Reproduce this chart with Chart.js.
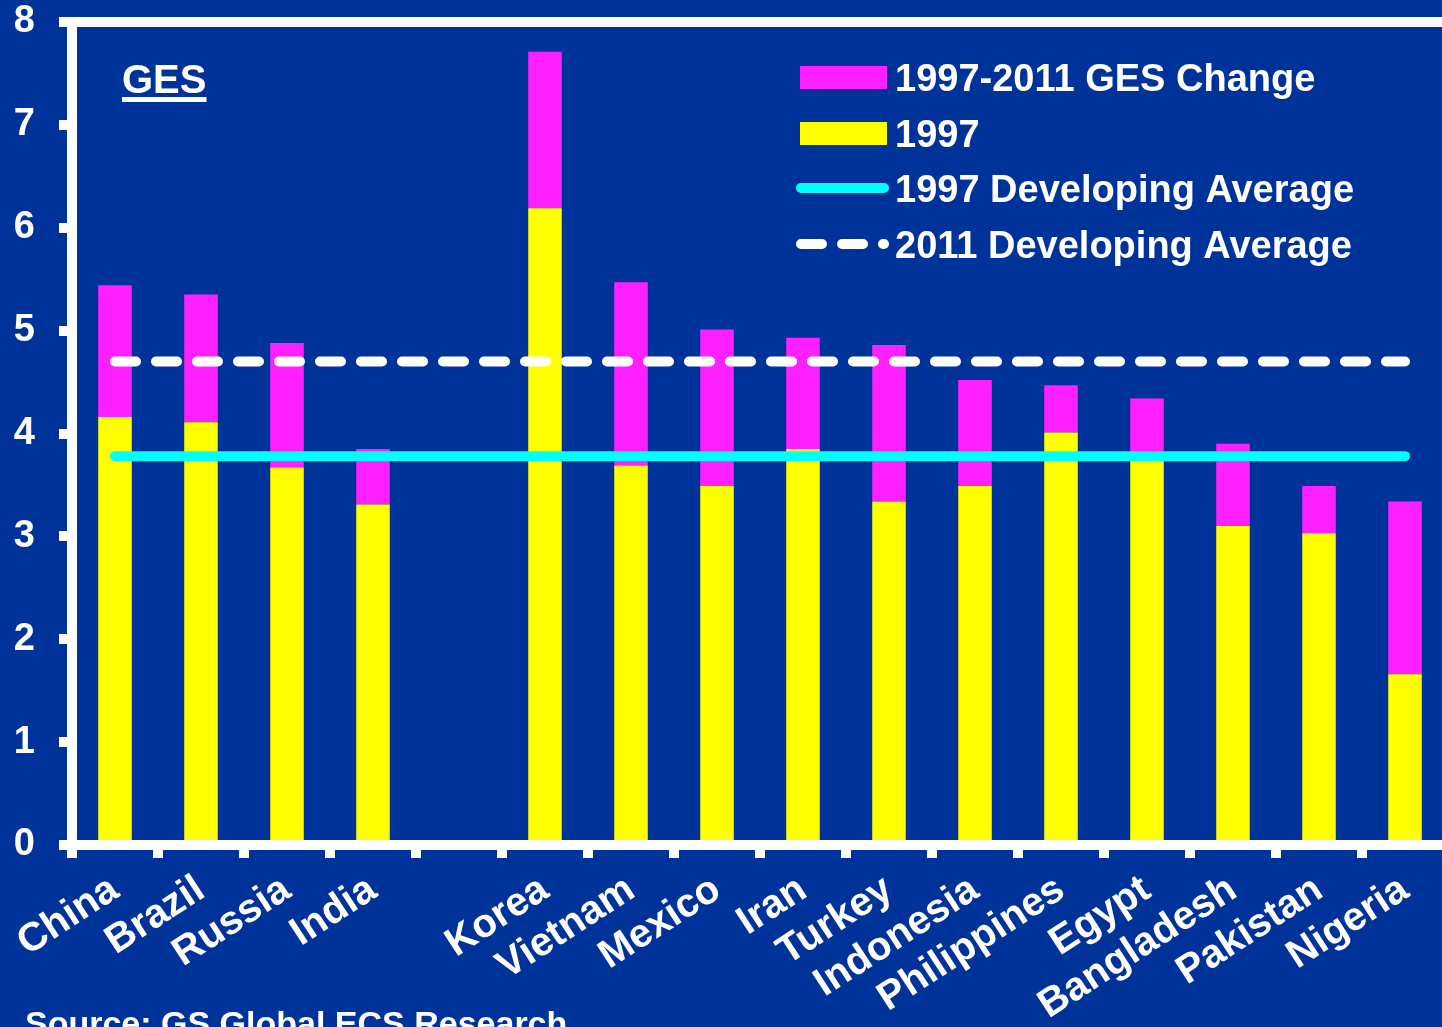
<!DOCTYPE html>
<html>
<head>
<meta charset="utf-8">
<script src="https://cdn.jsdelivr.net/npm/chart.js@4"></script>
<style>
  html, body { margin: 0; padding: 0; background: #003399; overflow: hidden; }
  #wrap { position: relative; width: 1452px; height: 1027px; }
</style>
</head>
<body>
<div id="wrap"><canvas id="chart" width="1452" height="1027"></canvas></div>
<script>
// categories (blank slot between India and Korea)
const countries = ['China', 'Brazil', 'Russia', 'India', '', 'Korea', 'Vietnam', 'Mexico', 'Iran',
  'Turkey', 'Indonesia', 'Philippines', 'Egypt', 'Bangladesh', 'Pakistan', 'Nigeria'];
// GES level in 1997
const ges1997 = [4.16, 4.11, 3.67, 3.31, null, 6.19, 3.69, 3.49, 3.85, 3.34, 3.49, 4.01, 3.78, 3.10, 3.03, 1.66];
// change 1997-2011 (stacked on top)
const gesChange = [1.28, 1.24, 1.21, 0.54, null, 1.52, 1.78, 1.52, 1.08, 1.52, 1.03, 0.46, 0.56, 0.80, 0.46, 1.68];
const avg1997 = 3.78;
const avg2011 = 4.70;
const yTicks = [0, 1, 2, 3, 4, 5, 6, 7, 8];

const FONT = '"Liberation Sans", Arial, sans-serif';
const BG = '#003399';
const MAGENTA = '#FF20FF';
const YELLOW = '#FFFF00';
const CYAN = '#00FFFF';

Chart.defaults.font.family = FONT;
Chart.defaults.color = '#fff';

// title, legend and source are drawn straight on the canvas
const overlay = {
  id: 'overlay',
  beforeDraw(chart) {
    const ctx = chart.ctx;
    ctx.save();
    ctx.fillStyle = BG;
    ctx.fillRect(0, 0, chart.width, chart.height);
    ctx.restore();
  },
  afterDraw(chart) {
    const ctx = chart.ctx;
    ctx.save();
    ctx.fillStyle = '#fff';
    ctx.textBaseline = 'alphabetic';
    ctx.textAlign = 'left';

    ctx.font = 'bold 40px ' + FONT;
    ctx.fillText('GES', 122, 93);
    ctx.fillRect(122, 97, ctx.measureText('GES').width, 5);

    const ds = chart.data.datasets;
    const rows = [ds[3], ds[2], ds[0], ds[1]];
    const rowY = [77, 133, 188, 244];
    ctx.font = 'bold 38px ' + FONT;
    rows.forEach((d, i) => {
      const y = rowY[i];
      if (d.type === 'bar') {
        ctx.fillStyle = d.backgroundColor;
        ctx.fillRect(800, y - 11, 87, 23);
      } else {
        ctx.strokeStyle = d.borderColor;
        ctx.lineWidth = 10;
        ctx.lineCap = 'round';
        ctx.setLineDash(d.borderDash || []);
        ctx.beginPath();
        ctx.moveTo(801, y);
        ctx.lineTo(884, y);
        ctx.stroke();
        ctx.setLineDash([]);
      }
      ctx.fillStyle = '#fff';
      ctx.fillText(d.label, 895, y + 14);
    });

    ctx.font = 'bold 34px ' + FONT;
    ctx.fillText('Source: GS Global ECS Research', 25, 1035);
    ctx.restore();
  }
};

new Chart(document.getElementById('chart'), {
  data: {
    labels: countries,
    datasets: [
      {
        type: 'line', label: '1997 Developing Average', stack: 'a1',
        data: countries.map(() => avg1997),
        borderColor: CYAN, borderWidth: 10, borderCapStyle: 'round',
        pointRadius: 0, order: 0
      },
      {
        type: 'line', label: '2011 Developing Average', stack: 'a2',
        data: countries.map(() => avg2011),
        borderColor: '#fff', borderWidth: 10, borderCapStyle: 'round',
        borderDash: [21, 20], pointRadius: 0, order: 0
      },
      {
        type: 'bar', label: '1997', data: ges1997,
        backgroundColor: YELLOW, borderWidth: 0, order: 1
      },
      {
        type: 'bar', label: '1997-2011 GES Change', data: gesChange,
        backgroundColor: MAGENTA, borderWidth: 0, order: 2
      }
    ]
  },
  options: {
    responsive: false,
    animation: false,
    devicePixelRatio: 1,
    layout: { padding: { left: 0, top: 22, right: 4, bottom: 0 } },
    datasets: { bar: { categoryPercentage: 1, barPercentage: 0.39 } },
    plugins: { legend: { display: false }, tooltip: { enabled: false }, title: { display: false } },
    scales: {
      x: {
        stacked: true,
        offset: true,
        afterFit: s => { s.height = 182; },
        border: { display: true, color: '#fff', width: 10, z: 1 },
        grid: { offset: true, drawOnChartArea: false, color: '#fff', lineWidth: 10, tickLength: 13 },
        ticks: {
          color: '#fff', font: { size: 40, weight: 'bold' },
          autoSkip: false, minRotation: 33, maxRotation: 33, padding: 8
        }
      },
      y: {
        stacked: true,
        min: 0, max: 8,
        afterFit: s => { s.width = 72; s.paddingTop = 0; s.paddingBottom = 0; },
        afterBuildTicks: s => { s.ticks = yTicks.map(v => ({ value: v })); },
        border: { display: true, color: '#fff', width: 10 },
        grid: {
          drawOnChartArea: true, lineWidth: 10, tickLength: 13, tickColor: '#fff',
          color: c => (c.tick && c.tick.value === 8 ? '#fff' : 'rgba(0,0,0,0)')
        },
        ticks: { color: '#fff', font: { size: 38, weight: 'bold' }, padding: 24 }
      }
    }
  },
  plugins: [overlay]
});
</script>
</body>
</html>
